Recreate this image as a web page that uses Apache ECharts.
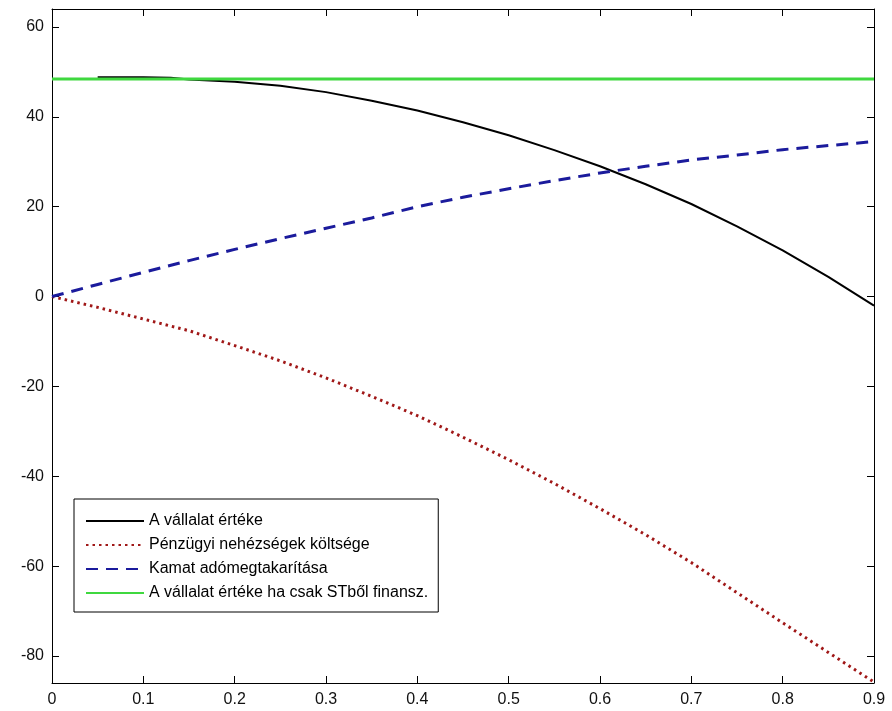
<!DOCTYPE html>
<html>
<head>
<meta charset="utf-8">
<script src="https://cdn.jsdelivr.net/npm/echarts@6/dist/echarts.min.js"></script>
<style>html,body{margin:0;padding:0;background:#fff;}#chart{width:892px;height:711px;}</style>
</head>
<body>
<div id="chart"></div>
<script>
// Data
const xFull = [0, 0.05, 0.1, 0.15, 0.2, 0.25, 0.3, 0.35, 0.4, 0.45, 0.5, 0.55, 0.6, 0.65, 0.7, 0.75, 0.8, 0.85, 0.9];
const firmValueX = [0.05, 0.1, 0.13, 0.15, 0.2, 0.25, 0.3, 0.35, 0.4, 0.45, 0.5, 0.55, 0.6, 0.65, 0.7, 0.75, 0.8, 0.85, 0.9];
const firmValue = [48.8, 48.8, 48.7, 48.3, 47.8, 46.9, 45.5, 43.6, 41.4, 38.8, 35.9, 32.6, 29.0, 25.0, 20.6, 15.6, 10.3, 4.4, -2.0];
const distressCost = [0, -2.4, -5.0, -7.6, -10.9, -14.3, -18.1, -22.2, -26.5, -31.3, -36.3, -41.6, -47.2, -53.0, -59.2, -65.9, -72.6, -79.2, -85.8];
const taxShield = [0, 2.7, 5.4, 8.0, 10.5, 12.9, 15.2, 17.5, 20.0, 22.1, 24.0, 25.8, 27.5, 29.0, 30.4, 31.5, 32.7, 33.6, 34.5];
const equityOnlyX = [0, 0.9];
const equityOnly = [48.4, 48.4];
const seriesNames = ['A vállalat értéke', 'Pénzügyi nehézségek költsége', 'Kamat adómegtakarítása', 'A vállalat értéke ha csak STből finansz.'];

const pairs = (xs, ys) => xs.map((x, i) => [x, ys[i]]);
const font = '"Liberation Sans", Arial, sans-serif';

const chart = echarts.init(document.getElementById('chart'), null, {renderer: 'canvas'});
const axisLineStyle = {show: true, onZero: false, lineStyle: {color: '#000', width: 1}};
const tickStyle = {show: true, inside: true, length: 7, lineStyle: {color: '#000'}};
chart.setOption({
  backgroundColor: '#fff',
  animation: false,
  grid: {left: 52, right: 18, top: 9, bottom: 28, containLabel: false},
  xAxis: [{
    type: 'value', min: 0, max: 0.9, interval: 0.1, position: 'bottom',
    axisLine: axisLineStyle, axisTick: tickStyle,
    axisLabel: {color: '#111', fontFamily: font, fontSize: 16, margin: 9,
      formatter: v => String(+v.toFixed(1))},
    splitLine: {show: false}
  }, {
    type: 'value', min: 0, max: 0.9, interval: 0.1, position: 'top',
    axisLine: axisLineStyle, axisTick: tickStyle,
    axisLabel: {show: false}, splitLine: {show: false}
  }],
  yAxis: [{
    type: 'value', min: -86, max: 64, splitNumber: 7, position: 'left',
    axisLine: axisLineStyle, axisTick: tickStyle,
    axisLabel: {color: '#111', fontFamily: font, fontSize: 16, margin: 8,
      showMinLabel: false, showMaxLabel: false},
    splitLine: {show: false}
  }, {
    type: 'value', min: -86, max: 64, splitNumber: 7, position: 'right',
    axisLine: axisLineStyle, axisTick: tickStyle,
    axisLabel: {show: false}, splitLine: {show: false}
  }],
  legend: {
    orient: 'vertical', left: 74, top: 499,
    itemWidth: 58, itemHeight: 14, itemGap: 8,
    padding: [14, 10, 11, 11],
    backgroundColor: '#fff', borderColor: '#000', borderWidth: 1, borderRadius: 0,
    itemStyle: {opacity: 0},
    textStyle: {color: '#000', fontFamily: font, fontSize: 16},
    data: seriesNames
  },
  series: [{
    name: seriesNames[0], type: 'line', data: pairs(firmValueX, firmValue),
    symbol: 'none', showSymbol: false, color: '#000',
    lineStyle: {color: '#000', width: 2, type: 'solid'}
  }, {
    name: seriesNames[1], type: 'line', data: pairs(xFull, distressCost),
    symbol: 'none', showSymbol: false, color: '#a01818',
    lineStyle: {color: '#a01818', width: 3, type: [2.5, 4]}
  }, {
    name: seriesNames[2], type: 'line', data: pairs(xFull, taxShield),
    symbol: 'none', showSymbol: false, color: '#1b1b9c',
    lineStyle: {color: '#1b1b9c', width: 3, type: [12, 8]}
  }, {
    name: seriesNames[3], type: 'line', data: pairs(equityOnlyX, equityOnly),
    symbol: 'none', showSymbol: false, color: '#3fd83f',
    lineStyle: {color: '#3fd83f', width: 3, type: 'solid'}
  }]
});
</script>
</body>
</html>
